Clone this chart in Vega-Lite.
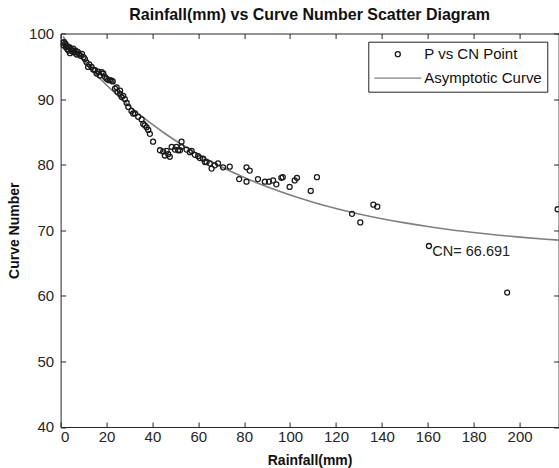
{
  "$schema": "https://vega.github.io/schema/vega-lite/v6.json",
  "width": 498,
  "height": 393.5,
  "autosize": {"type": "none"},
  "padding": {"left": 60.6, "top": 33.5, "right": 0, "bottom": 41},
  "background": "white",
  "title": {"text": "Rainfall(mm) vs Curve Number Scatter Diagram", "font": "Liberation Sans", "fontSize": 16, "fontWeight": "bold", "color": "#111111", "anchor": "middle", "offset": 4},
  "config": {
    "view": {"stroke": null},
    "font": "Liberation Sans",
    "axis": {"domainColor": "#262626", "tickColor": "#262626", "labelColor": "#262626", "labelFont": "Liberation Sans", "labelFontSize": 15, "tickSize": -5, "grid": false, "titleFont": "Liberation Sans", "titleFontSize": 14, "titleFontWeight": "bold", "titleColor": "#111111"}
  },
  "datasets": {
    "curve": [
      {"P": 1, "CN": 99.56}, {"P": 5, "CN": 97.83}, {"P": 10, "CN": 95.81}, {"P": 15, "CN": 93.91},
      {"P": 20, "CN": 92.15}, {"P": 25, "CN": 90.49}, {"P": 30, "CN": 88.94}, {"P": 35, "CN": 87.49},
      {"P": 40, "CN": 86.14}, {"P": 45, "CN": 84.87}, {"P": 50, "CN": 83.69}, {"P": 55, "CN": 82.59},
      {"P": 60, "CN": 81.55}, {"P": 70, "CN": 79.68}, {"P": 80, "CN": 78.05}, {"P": 90, "CN": 76.62},
      {"P": 100, "CN": 75.37}, {"P": 110, "CN": 74.28}, {"P": 120, "CN": 73.32}, {"P": 130, "CN": 72.49},
      {"P": 140, "CN": 71.76}, {"P": 150, "CN": 71.12}, {"P": 160, "CN": 70.56}, {"P": 170, "CN": 70.07},
      {"P": 180, "CN": 69.65}, {"P": 190, "CN": 69.28}, {"P": 200, "CN": 68.95}, {"P": 210, "CN": 68.67},
      {"P": 217, "CN": 68.49}
    ],
    "pts": [
      {"P": 0.8, "CN": 98.6}, {"P": 1.2, "CN": 98.2}, {"P": 1.5, "CN": 98.7}, {"P": 2.0, "CN": 98.4},
      {"P": 2.3, "CN": 97.9}, {"P": 2.7, "CN": 98.0}, {"P": 3.0, "CN": 97.6}, {"P": 3.4, "CN": 97.4},
      {"P": 3.8, "CN": 97.9}, {"P": 4.1, "CN": 97.0}, {"P": 4.5, "CN": 97.6}, {"P": 5.0, "CN": 97.3},
      {"P": 5.5, "CN": 97.7}, {"P": 6.0, "CN": 97.1}, {"P": 6.5, "CN": 97.4}, {"P": 7.0, "CN": 96.8},
      {"P": 7.5, "CN": 97.2}, {"P": 8.0, "CN": 96.9}, {"P": 8.7, "CN": 96.6}, {"P": 9.3, "CN": 96.9},
      {"P": 10.0, "CN": 96.4}, {"P": 10.6, "CN": 96.1}, {"P": 11.3, "CN": 95.6}, {"P": 12.0, "CN": 94.9},
      {"P": 12.5, "CN": 95.3}, {"P": 13.5, "CN": 94.9}, {"P": 14.2, "CN": 94.5}, {"P": 15.0, "CN": 94.4},
      {"P": 15.7, "CN": 93.9}, {"P": 16.4, "CN": 94.2}, {"P": 17.1, "CN": 93.6}, {"P": 17.9, "CN": 94.1},
      {"P": 18.6, "CN": 93.9}, {"P": 19.3, "CN": 93.4}, {"P": 20.0, "CN": 93.1}, {"P": 20.8, "CN": 92.9},
      {"P": 21.5, "CN": 92.9}, {"P": 22.2, "CN": 92.8}, {"P": 22.7, "CN": 92.7}, {"P": 23.7, "CN": 91.6},
      {"P": 24.4, "CN": 91.8}, {"P": 24.8, "CN": 91.1}, {"P": 25.9, "CN": 91.3}, {"P": 25.9, "CN": 90.8},
      {"P": 26.6, "CN": 90.3}, {"P": 27.3, "CN": 90.5}, {"P": 28.0, "CN": 90.0}, {"P": 28.8, "CN": 89.4},
      {"P": 29.5, "CN": 88.8}, {"P": 30.9, "CN": 88.2}, {"P": 31.6, "CN": 87.8}, {"P": 32.4, "CN": 87.8},
      {"P": 33.8, "CN": 87.3}, {"P": 35.3, "CN": 86.9}, {"P": 36.0, "CN": 86.2}, {"P": 36.7, "CN": 86.0},
      {"P": 37.5, "CN": 85.7}, {"P": 38.2, "CN": 85.3}, {"P": 38.9, "CN": 84.7}, {"P": 40.3, "CN": 83.5},
      {"P": 43.3, "CN": 82.2}, {"P": 44.7, "CN": 82.0}, {"P": 45.4, "CN": 81.4}, {"P": 46.2, "CN": 82.1},
      {"P": 46.9, "CN": 81.6}, {"P": 47.6, "CN": 81.2}, {"P": 48.4, "CN": 82.7}, {"P": 49.8, "CN": 82.3},
      {"P": 50.5, "CN": 82.7}, {"P": 51.2, "CN": 82.2}, {"P": 52.0, "CN": 82.2}, {"P": 52.7, "CN": 83.5},
      {"P": 52.7, "CN": 82.7}, {"P": 54.9, "CN": 82.3}, {"P": 56.3, "CN": 81.9}, {"P": 57.1, "CN": 82.1},
      {"P": 58.5, "CN": 81.5}, {"P": 59.9, "CN": 81.3}, {"P": 60.7, "CN": 81.0}, {"P": 62.1, "CN": 80.9},
      {"P": 62.9, "CN": 80.4}, {"P": 63.6, "CN": 80.4}, {"P": 65.0, "CN": 80.2}, {"P": 65.8, "CN": 79.4},
      {"P": 67.2, "CN": 79.9}, {"P": 68.6, "CN": 80.2}, {"P": 70.8, "CN": 79.6}, {"P": 73.7, "CN": 79.7},
      {"P": 77.8, "CN": 77.8}, {"P": 81.0, "CN": 79.6}, {"P": 81.0, "CN": 77.4}, {"P": 82.4, "CN": 79.1},
      {"P": 86.0, "CN": 77.8}, {"P": 89.0, "CN": 77.4}, {"P": 90.8, "CN": 77.4}, {"P": 92.6, "CN": 77.6},
      {"P": 94.0, "CN": 77.0}, {"P": 96.2, "CN": 78.0}, {"P": 96.8, "CN": 78.1}, {"P": 99.8, "CN": 76.6},
      {"P": 102.0, "CN": 77.6}, {"P": 103.0, "CN": 78.0}, {"P": 109.0, "CN": 76.0}, {"P": 111.7, "CN": 78.1},
      {"P": 127.0, "CN": 72.5}, {"P": 130.6, "CN": 71.2}, {"P": 136.3, "CN": 73.9}, {"P": 138.0, "CN": 73.6},
      {"P": 160.5, "CN": 67.6}, {"P": 194.6, "CN": 60.5}, {"P": 216.6, "CN": 73.2}
    ],
    "ann": [{"P": 162, "CN": 66.75, "label": "CN= 66.691"}]
  },
  "layer": [
    {
      "data": {"name": "curve"},
      "mark": {"type": "line", "stroke": "#7f7f7f", "strokeWidth": 1.6, "interpolate": "monotone", "clip": true},
      "encoding": {
        "x": {"field": "P", "type": "quantitative", "scale": {"domain": [0, 217], "nice": false, "zero": false},
              "axis": {"orient": "bottom", "values": [0, 20, 40, 60, 80, 100, 120, 140, 160, 180, 200], "title": "Rainfall(mm)", "labelPadding": 8, "titlePadding": 9}},
        "y": {"field": "CN", "type": "quantitative", "scale": {"domain": [40, 100], "nice": false, "zero": false},
              "axis": {"orient": "left", "values": [40, 50, 60, 70, 80, 90, 100], "title": "Curve Number", "labelPadding": 12, "titlePadding": 7}}
      }
    },
    {
      "data": {"name": "pts"},
      "transform": [{"calculate": "'P vs CN Point'", "as": "series"}],
      "mark": {"type": "point", "filled": false, "strokeWidth": 1.3, "opacity": 1, "clip": true},
      "encoding": {
        "x": {"field": "P", "type": "quantitative", "axis": null},
        "y": {"field": "CN", "type": "quantitative", "axis": null},
        "shape": {"field": "series", "type": "nominal", "scale": {"domain": ["P vs CN Point", "Asymptotic Curve"], "range": ["circle", "M-1,0L1,0"]},
                  "legend": {"title": null, "orient": "none", "legendX": 307.7, "legendY": 8.2, "strokeColor": "#222222", "fillColor": "white", "padding": 5, "labelFontSize": 15, "labelFont": "Liberation Sans", "labelColor": "#111111", "labelOffset": 2, "rowPadding": 8, "symbolStrokeWidth": 1.3, "clipHeight": 15}},
        "stroke": {"field": "series", "type": "nominal", "scale": {"domain": ["P vs CN Point", "Asymptotic Curve"], "range": ["#1a1a1a", "#7f7f7f"]},
                   "legend": {"title": null, "orient": "none", "legendX": 307.7, "legendY": 8.2, "strokeColor": "#222222", "fillColor": "white", "padding": 5, "labelFontSize": 15, "labelFont": "Liberation Sans", "labelColor": "#111111", "labelOffset": 2, "rowPadding": 8, "symbolStrokeWidth": 1.3, "clipHeight": 15}},
        "size": {"field": "series", "type": "nominal", "scale": {"domain": ["P vs CN Point", "Asymptotic Curve"], "range": [25, 2200]},
                 "legend": {"title": null, "orient": "none", "legendX": 307.7, "legendY": 8.2, "strokeColor": "#222222", "fillColor": "white", "padding": 5, "labelFontSize": 15, "labelFont": "Liberation Sans", "labelColor": "#111111", "labelOffset": 2, "rowPadding": 8, "symbolStrokeWidth": 1.3, "clipHeight": 15}}
      }
    },
    {
      "data": {"name": "ann"},
      "mark": {"type": "text", "align": "left", "baseline": "middle", "font": "Liberation Sans", "fontSize": 14.5, "color": "#222222"},
      "encoding": {
        "x": {"field": "P", "type": "quantitative", "axis": null},
        "y": {"field": "CN", "type": "quantitative", "axis": null},
        "text": {"field": "label"}
      }
    },
    {
      "data": {"name": "curve"},
      "mark": {"type": "point", "opacity": 0},
      "encoding": {
        "x": {"field": "P", "type": "quantitative", "axis": {"orient": "top", "values": [0, 20, 40, 60, 80, 100, 120, 140, 160, 180, 200], "labels": false, "title": null}},
        "y": {"field": "CN", "type": "quantitative", "axis": {"orient": "right", "values": [40, 50, 60, 70, 80, 90, 100], "labels": false, "title": null}}
      }
    }
  ],
  "resolve": {"axis": {"x": "independent", "y": "independent"}}
}
